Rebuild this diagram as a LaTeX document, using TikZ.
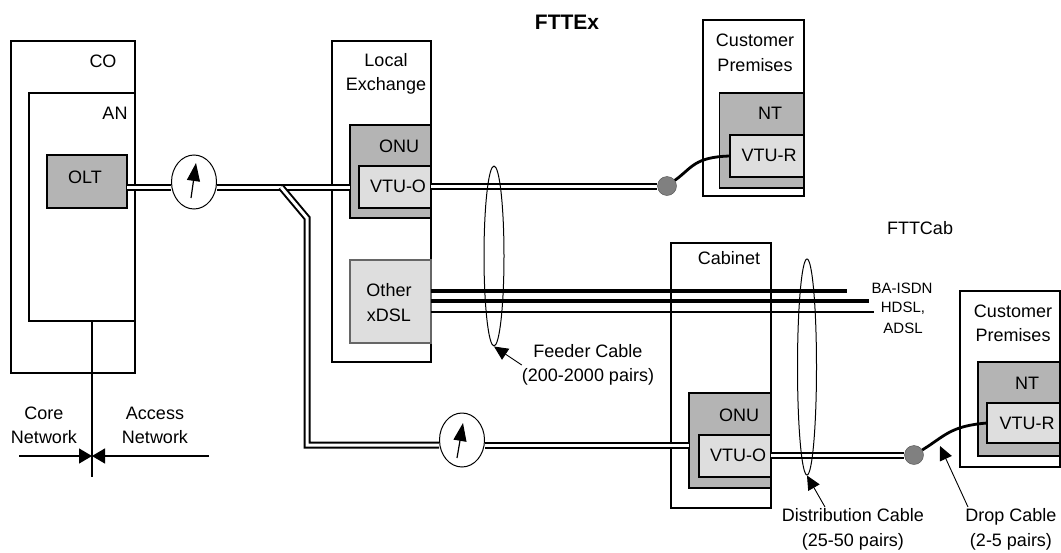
\documentclass[tikz,border=0pt]{standalone}
\usepackage{fontspec}
\setmainfont{Liberation Sans}
\usetikzlibrary{arrows.meta,shapes.geometric}
\definecolor{darkfill}{HTML}{B4B4B4}
\definecolor{lightfill}{HTML}{DEDEDE}
\begin{document}
\begin{tikzpicture}[
        x=1pt, y=-1pt,
        box/.style={rectangle, draw=black, line width=1.3pt, fill=white, inner sep=0pt, outer sep=0pt},
        darkbox/.style={box, fill=darkfill},
        lightbox/.style={box, fill=lightfill},
        lbl/.style={inner sep=0pt, align=center, font=\fontsize{18}{24.5}\selectfont},
        small/.style={inner sep=0pt, align=center, font=\fontsize{15}{20}\selectfont},
        title/.style={inner sep=0pt, font=\fontsize{21}{24}\selectfont\bfseries},
        meter/.style={ellipse, draw=black, line width=1pt, fill=white, inner sep=0pt, minimum width=45pt, minimum height=54pt},
        dot/.style={circle, draw=black!70, fill=black!50, inner sep=0pt, minimum size=19pt},
        cable/.style={draw=black, line width=2pt, double=white, double distance=3pt},
        wire/.style={draw=black, line width=3.5pt},
        drop/.style={draw=black, line width=2.8pt},
        loopcable/.style={ellipse, draw=black, line width=1pt, inner sep=0pt},
        needle/.style={-{Triangle[length=18pt,width=13pt]}, line width=1.2pt},
        pointer/.style={-{Triangle[length=14pt,width=13pt]}, line width=0.9pt},
        bow/.style={-{Triangle[length=13pt,width=15pt]}, line width=1.3pt}
    ]
    \useasboundingbox (0,0) rectangle (1061,552);

    % central office
    \node[box, minimum width=124pt, minimum height=332pt] (co) at (73,207) {};
    \node[box, minimum width=106pt, minimum height=228pt] (an) at (82,207) {};
    \node[darkbox, minimum width=80pt, minimum height=53pt] (olt) at (87,181.5) {};
    \node[lbl] (colabel) at (103,61) {CO};
    \node[lbl] (anlabel) at (115,113) {AN};
    \node[lbl] (oltlabel) at (85,177) {OLT};

    % local exchange
    \node[box, minimum width=99pt, minimum height=321pt] (lex) at (381.5,201.5) {};
    \node[darkbox, minimum width=81pt, minimum height=93pt] (onua) at (390.5,171.5) {};
    \node[lightbox, minimum width=72pt, minimum height=42pt] (vtuoa) at (395,187) {};
    \node[lightbox, draw=black!60, minimum width=81pt, minimum height=83pt] (xdsl) at (390.5,301.5) {};
    \node[lbl] (lexlabel) at (386,74) {Local\\Exchange};
    \node[lbl] (onualabel) at (399,146) {ONU};
    \node[lbl] (vtuoalabel) at (398,186) {VTU-O};
    \node[lbl] (xdsllabel) at (389,302.5) {Other\\xDSL};

    % customer premises of FTTEx
    \node[box, minimum width=101pt, minimum height=176pt] (cpa) at (753.5,108) {};
    \node[darkbox, minimum width=84.5pt, minimum height=95pt] (nta) at (761.75,140.5) {};
    \node[lightbox, minimum width=74pt, minimum height=42pt] (vtura) at (767,156) {};
    \node[lbl] (cpalabel) at (755,53) {Customer\\Premises};
    \node[lbl] (ntalabel) at (770,113) {NT};
    \node[lbl] (vturalabel) at (769,155) {VTU-R};

    % cabinet
    \node[box, minimum width=100pt, minimum height=265pt] (cab) at (721,375.5) {};
    \node[darkbox, minimum width=82pt, minimum height=95pt] (onub) at (730,440.5) {};
    \node[lightbox, minimum width=72pt, minimum height=42pt] (vtuob) at (735,456) {};
    \node[lbl] (cablabel) at (729,258) {Cabinet};
    \node[lbl] (onublabel) at (739,415) {ONU};
    \node[lbl] (vtuoblabel) at (738,455) {VTU-O};

    % customer premises of FTTCab
    \node[box, minimum width=100pt, minimum height=176pt] (cpb) at (1010,379) {};
    \node[darkbox, minimum width=82pt, minimum height=94pt] (ntb) at (1019,409) {};
    \node[lightbox, minimum width=73pt, minimum height=40pt] (vturb) at (1023.5,423) {};
    \node[lbl] (cpblabel) at (1013,323.5) {Customer\\Premises};
    \node[lbl] (ntblabel) at (1027,383) {NT};
    \node[lbl] (vturblabel) at (1027,423) {VTU-R};

    % titles
    \node[title] (fttex) at (567,22) {FTTEx};
    \node[lbl] (fttcab) at (920,228) {FTTCab};

    % meters and end points
    \node[meter] (metera) at (194,182) {};
    \node[meter] (meterb) at (462,440) {};
    \node[dot] (dota) at (667,186) {};
    \node[dot] (dotb) at (914,455) {};
    \coordinate (joint) at (281,187);
    \coordinate (elbow) at (307,218);
    \coordinate (bend) at (307,445);

    % fibre
    \draw[cable] (olt.east |- joint) -- (metera.west |- joint);
    \draw[cable] (metera.east |- joint) -- (onua.west |- joint);
    \draw[cable] (joint) -- (elbow) -- (bend) -- (meterb.west |- bend);
    \draw[cable] (meterb.east |- bend) -- (onub.west |- bend);
    \draw[cable] (vtuoa.east |- dota) -- (dota);
    \draw[cable] (vtuob.east |- dotb) -- (dotb);
    \draw[drop] (dota) .. controls (692,168) and (694,157) .. (vtura.west);
    \draw[drop] (dotb) .. controls (945,436) and (950,426) .. (vturb.west);

    % meter needles
    \draw[needle] ([shift={(-3,16)}]metera.center) -- ([shift={(2,-19)}]metera.center);
    \draw[needle] ([shift={(-5,18)}]meterb.center) -- ([shift={(1,-17)}]meterb.center);

    % copper to the right
    \coordinate (baend) at (847,291);
    \coordinate (hdend) at (869,301);
    \coordinate (adend) at (874,312);
    \draw[wire] (xdsl.east |- baend) -- (baend);
    \draw[wire] (xdsl.east |- hdend) -- (hdend);
    \draw[wire, line width=2.2pt] (xdsl.east |- adend) -- (adend);
    \node[small] (balabel) at (902,288) {BA-ISDN};
    \node[small] (hdlabel) at (903,308) {HDSL,};
    \node[small] (adlabel) at (903,328) {ADSL};

    % cable bundles
    \node[loopcable, minimum width=20pt, minimum height=180pt] (feeder) at (494,256) {};
    \node[loopcable, minimum width=19pt, minimum height=216pt] (dist) at (807,367) {};
    \node[lbl] (feederlabel) at (588,365) {Feeder Cable\\(200-2000 pairs)};
    \node[lbl] (distlabel) at (853,529.5) {Distribution Cable\\(25-50 pairs)};
    \node[lbl] (droplabel) at (1011,529.5) {Drop Cable\\(2-5 pairs)};
    \coordinate (distfoot) at (825,507);
    \coordinate (dropfoot) at (968,507);
    \coordinate (droptip) at (940,446);
    \draw[pointer] (feederlabel.west) -- (feeder.south);
    \draw[pointer] (distfoot) -- (dist.south);
    \draw[pointer] (dropfoot) -- (droptip);

    % network boundary
    \coordinate (demarc) at (92,456);
    \coordinate (coreend) at (19,456);
    \coordinate (accessend) at (209,456);
    \coordinate (boundend) at (92,477);
    \draw[line width=1.3pt] (an.south -| demarc) -- (boundend);
    \draw[bow] (coreend) -- (demarc);
    \draw[bow] (accessend) -- (demarc);
    \node[lbl] (corelabel) at (44,425.5) {Core\\Network};
    \node[lbl] (accesslabel) at (155,425.5) {Access\\Network};
\end{tikzpicture}
\end{document}
